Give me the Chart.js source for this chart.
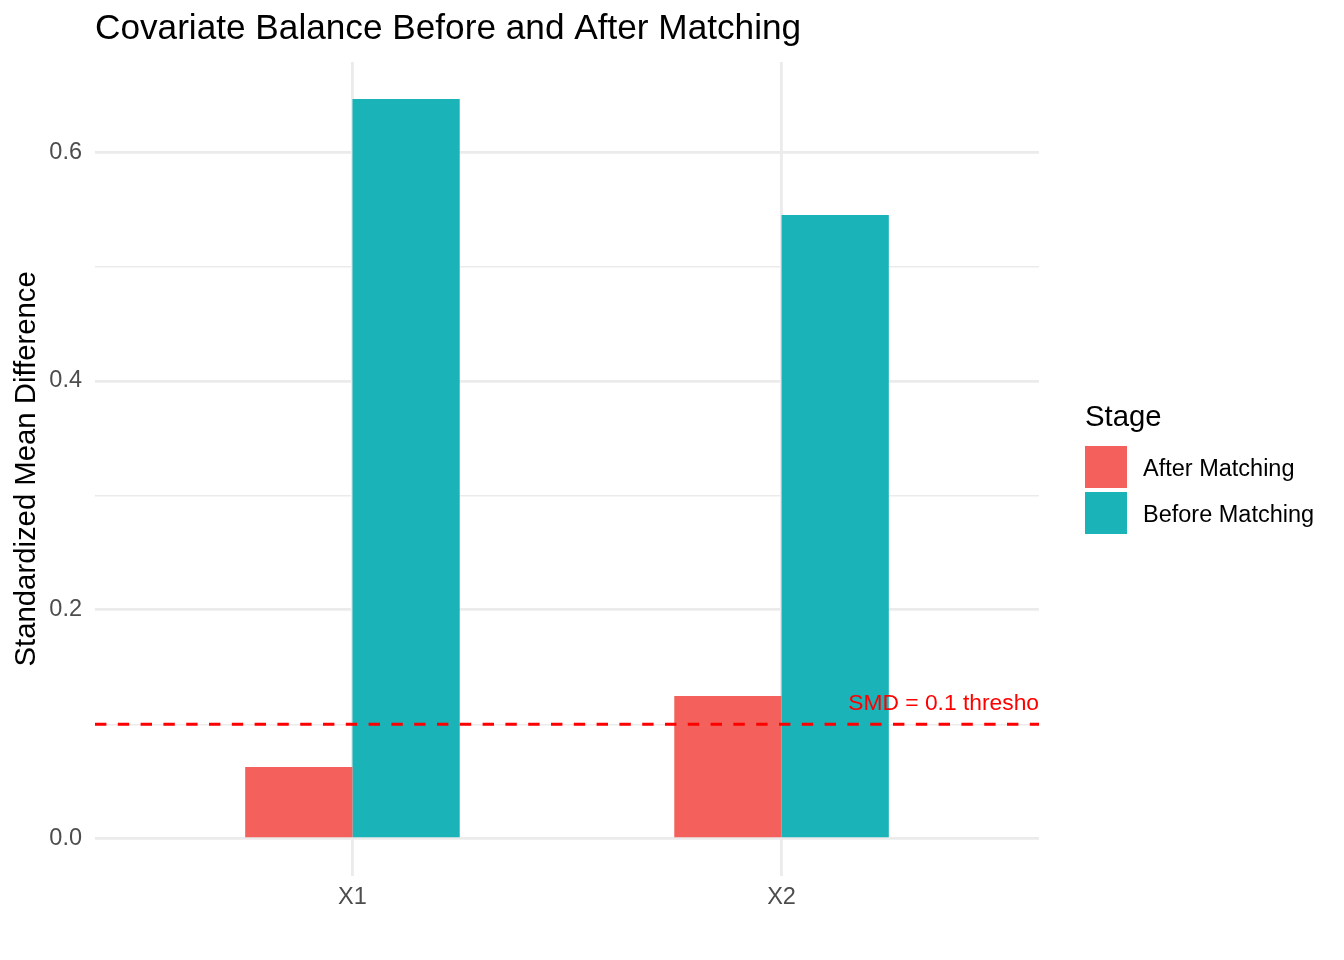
<!DOCTYPE html>
<html>
<head>
<meta charset="utf-8">
<script src="https://cdn.jsdelivr.net/npm/chart.js@4.4.1/dist/chart.umd.min.js"></script>
<style>
  html, body { margin: 0; padding: 0; background: #fff; }
  #wrap { width: 1344px; height: 960px; }
</style>
</head>
<body>
<div id="wrap"><canvas id="balanceChart"></canvas></div>
<script>
const categories = ['X1', 'X2'];
const stages = ['After Matching', 'Before Matching'];
const afterValues = [0.0626, 0.1247];
const beforeValues = [0.6463, 0.545];
const threshold = 0.1;
const yTicks = [0, 0.1, 0.2, 0.3, 0.4, 0.5, 0.6];

const FONT = "'Liberation Sans', Arial, Helvetica, sans-serif";
const stageColors = ['#F4605B', '#19B3B8'];

Chart.defaults.font.family = FONT;

const ctx = document.getElementById('balanceChart').getContext('2d');

// title, threshold label and legend, drawn ggplot-style
const extrasPlugin = {
    id: 'extras',
    afterDatasetsDraw(chart) {
        const c = chart.ctx;
        const area = chart.chartArea;
        const y = chart.scales.y;
        c.save();
        c.fillStyle = '#FF0000';
        c.font = '22.8px ' + FONT;
        c.textAlign = 'right';
        c.textBaseline = 'alphabetic';
        c.fillText('SMD = 0.1 thresho', area.right, y.getPixelForValue(threshold) - 14);
        c.restore();
    },
    afterDraw(chart) {
        const c = chart.ctx;
        const area = chart.chartArea;
        c.save();
        c.fillStyle = '#000';
        c.textAlign = 'left';
        c.textBaseline = 'alphabetic';
        c.font = '35.2px ' + FONT;
        c.fillText('Covariate Balance Before and After Matching', area.left, 39);

        const lx = area.right + 46;
        c.font = '29.3px ' + FONT;
        c.fillText('Stage', lx, 426);
        c.font = '23.5px ' + FONT;
        stages.forEach((name, i) => {
            const top = 446 + i * 46;
            c.fillStyle = stageColors[i];
            c.fillRect(lx, top, 42, 42);
            c.fillStyle = '#000';
            c.fillText(name, lx + 58, top + 30);
        });
        c.restore();
    }
};

new Chart(ctx, {
    type: 'bar',
    data: {
        datasets: [
            {
                type: 'line',
                label: 'threshold',
                data: [{ x: 0.4, y: threshold }, { x: 2.6, y: threshold }],
                borderColor: '#FF0000',
                borderWidth: 2.85,
                borderDash: [11.4, 11.4],
                pointRadius: 0,
                fill: false,
                order: -1
            },
            {
                label: stages[0],
                data: categories.map((c, i) => ({ x: i + 1, y: afterValues[i] })),
                backgroundColor: stageColors[0],
                borderWidth: 0,
                categoryPercentage: 0.5,
                barPercentage: 1
            },
            {
                label: stages[1],
                data: categories.map((c, i) => ({ x: i + 1, y: beforeValues[i] })),
                backgroundColor: stageColors[1],
                borderWidth: 0,
                categoryPercentage: 0.5,
                barPercentage: 1
            }
        ]
    },
    options: {
        responsive: true,
        maintainAspectRatio: false,
        devicePixelRatio: 1,
        animation: false,
        layout: {
            padding: { top: 62, right: 305, bottom: 0, left: 0 }
        },
        plugins: {
            legend: { display: false },
            title: { display: false },
            tooltip: { enabled: false }
        },
        scales: {
            x: {
                type: 'linear',
                min: 0.4,
                max: 2.6,
                offset: false,
                afterBuildTicks: (scale) => {
                    scale.ticks = categories.map((c, i) => ({ value: i + 1 }));
                },
                afterFit: (scale) => { scale.height = 84.3; },
                border: { display: false },
                grid: {
                    color: '#EBEBEB',
                    lineWidth: 2.85,
                    drawTicks: false,
                    offset: false
                },
                ticks: {
                    padding: 8,
                    color: '#4D4D4D',
                    font: { size: 23.5 },
                    autoSkip: false,
                    maxRotation: 0,
                    callback: (v) => categories[Math.round(v) - 1] || ''
                }
            },
            y: {
                min: -0.0323,
                max: 0.6787,
                afterBuildTicks: (scale) => {
                    scale.ticks = yTicks.map(v => ({ value: v }));
                },
                afterFit: (scale) => { scale.width = 95; },
                border: { display: false },
                grid: {
                    color: '#EBEBEB',
                    lineWidth: (c) => (Math.round(c.tick.value * 10) % 2 === 0 ? 2.85 : 1.42),
                    drawTicks: false
                },
                ticks: {
                    padding: 13,
                    color: '#4D4D4D',
                    font: { size: 23.5 },
                    autoSkip: false,
                    callback: (v) => (Math.round(v * 10) % 2 === 0 ? v.toFixed(1) : '')
                },
                title: {
                    display: true,
                    text: 'Standardized Mean Difference',
                    color: '#000',
                    font: { size: 29.3 },
                    padding: { top: 9, bottom: 0 }
                }
            }
        }
    },
    plugins: [extrasPlugin]
});
</script>
</body>
</html>
